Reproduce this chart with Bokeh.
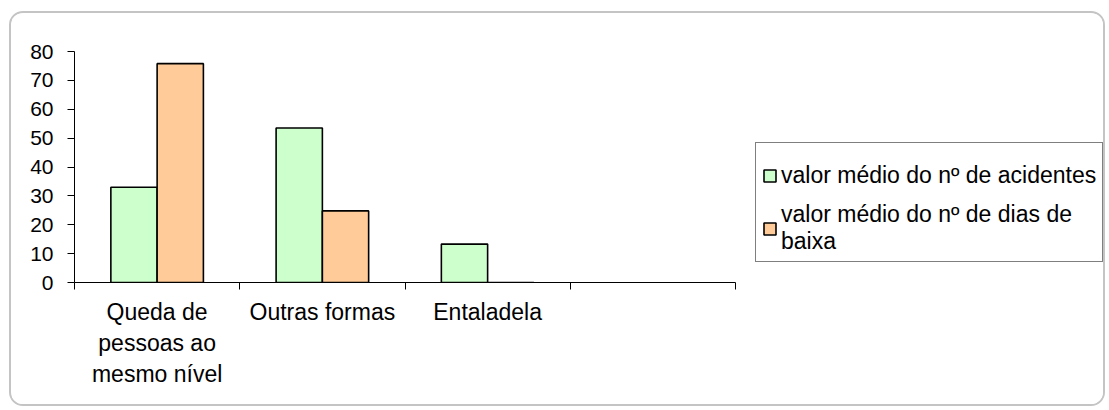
import textwrap

from bokeh.embed import file_html
from bokeh.models import FixedTicker, Legend, LegendItem, Range1d, ColumnDataSource
from bokeh.plotting import figure
from bokeh.resources import INLINE
from bokeh.transform import dodge

# Data
categories = ["Queda de pessoas ao mesmo nível", "Outras formas", "Entaladela"]
acidentes = [33.0, 53.5, 13.3]
dias_baixa = [75.8, 24.8, 0.0]
series_names = ["valor médio do nº de acidentes",
                "valor médio do nº de dias de baixa"]
y_ticks = [0, 10, 20, 30, 40, 50, 60, 70, 80]

FONT = "Liberation Sans"
GREEN = "#CCFFCC"
ORANGE = "#FFCC99"
BAR_W = 0.28

# canvas / frame geometry (px)
CANVAS_W, CANVAS_H = 1096, 395
LEFT, TOP, BOTTOM = 63, 38, 126
AXIS_PX = 661                      # length of the category axis
FRAME_W = CANVAS_W - LEFT          # frame runs to the right edge, legend lives there

# the category axis keeps one empty slot after the last category
n_slots = len(categories) + 1
centers = [i + 0.5 for i in range(len(categories))]
x_end = n_slots * FRAME_W / AXIS_PX

source = ColumnDataSource(dict(x=centers, acidentes=acidentes, dias=dias_baixa))

p = figure(width=CANVAS_W, height=CANVAS_H, title=None,
           x_range=Range1d(0, x_end), y_range=Range1d(0, 80),
           output_backend="svg", toolbar_location=None,
           min_border_left=LEFT, min_border_right=0,
           min_border_top=TOP, min_border_bottom=BOTTOM)
p.styles = {"margin-left": "9px", "margin-top": "11px",
            "border": "2px solid #C4C4C4", "border-radius": "14px",
            "overflow": "hidden"}
p.background_fill_color = "white"
p.border_fill_color = "white"
p.outline_line_color = None
p.xgrid.visible = False
p.ygrid.visible = False

r1 = p.vbar(x=dodge("x", -BAR_W / 2), top="acidentes", width=BAR_W, source=source,
            fill_color=GREEN, line_color="black", line_width=1.6)
r2 = p.vbar(x=dodge("x", BAR_W / 2), top="dias", width=BAR_W, source=source,
            fill_color=ORANGE, line_color="black", line_width=1.6)

# y axis
yax = p.yaxis[0]
yax.ticker = FixedTicker(ticks=y_ticks, minor_ticks=[])
yax.axis_line_color = "black"
yax.major_tick_line_color = "black"
yax.major_tick_out = 7
yax.major_tick_in = 0
yax.major_label_standoff = 14
yax.major_label_text_font = FONT
yax.major_label_text_font_size = "21px"
yax.major_label_text_color = "black"

# x axis: labels at the category centres, tick marks on the boundaries
xax = p.xaxis[0]
xax.bounds = (0, n_slots)
xax.ticker = FixedTicker(ticks=centers, minor_ticks=list(range(n_slots + 1)))
xax.major_label_overrides = {c: "\n".join(textwrap.wrap(name, 13))
                             for c, name in zip(centers, categories)}
xax.axis_line_color = "black"
xax.major_tick_out = 0
xax.major_tick_in = 0
xax.minor_tick_line_color = "black"
xax.minor_tick_out = 7
xax.minor_tick_in = 0
xax.major_label_standoff = 9
xax.major_label_text_font = FONT
xax.major_label_text_font_size = "23px"
xax.major_label_text_color = "black"
xax.major_label_text_line_height = 1.2

legend = Legend(
    items=[LegendItem(label="\n".join(textwrap.wrap(series_names[0], 30)), renderers=[r1]),
           LegendItem(label="\n".join(textwrap.wrap(series_names[1], 30)), renderers=[r2])],
    location=(AXIS_PX + 20, 20),
    border_line_color="black", border_line_width=1,
    background_fill_color="white", background_fill_alpha=1.0,
    padding=6, spacing=0, margin=0,
    glyph_width=15, glyph_height=15, label_standoff=4,
    label_height=52,
    label_text_font=FONT, label_text_font_size="23px",
    label_text_line_height=1.12, label_text_color="black",
)
p.add_layout(legend, "center")

open("out.html", "w").write(file_html(p, INLINE))
